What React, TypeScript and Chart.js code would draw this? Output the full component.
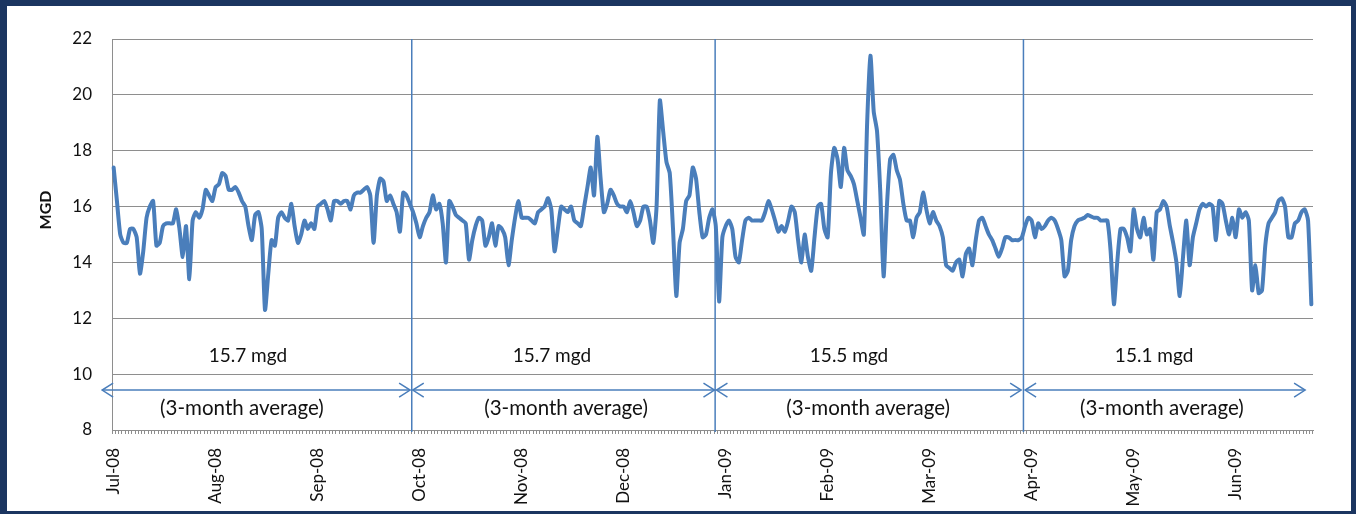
import React, { useEffect, useRef } from 'react';
import { Chart, registerables } from 'chart.js';

Chart.register(...registerables);

// Month tick labels (one label every 31 daily categories)
const monthLabels = [
  'Jul-08', 'Aug-08', 'Sep-08', 'Oct-08', 'Nov-08', 'Dec-08',
  'Jan-09', 'Feb-09', 'Mar-09', 'Apr-09', 'May-09', 'Jun-09',
];
const labelEvery = 31;

// Daily flow, MGD (Jul-08 .. Jun-09)
const dailyMgd = [
  17.4, 16.2, 15.0, 14.7, 14.7, 15.2, 15.2, 14.9, 13.6, 14.4,
  15.6, 16.0, 16.2, 14.6, 14.7, 15.3, 15.4, 15.4, 15.4, 15.9,
  15.2, 14.2, 15.3, 13.4, 15.5, 15.8, 15.6, 15.9, 16.6, 16.4,
  16.2, 16.7, 16.8, 17.2, 17.1, 16.6, 16.6, 16.7, 16.5, 16.2,
  16.0, 15.3, 14.8, 15.7, 15.8, 15.2, 12.3, 13.6, 14.8, 14.6,
  15.6, 15.8, 15.6, 15.5, 16.1, 15.3, 14.7, 15.0, 15.5, 15.2,
  15.4, 15.2, 16.0, 16.1, 16.2, 15.9, 15.5, 16.2, 16.2, 16.1,
  16.2, 16.2, 15.9, 16.4, 16.5, 16.5, 16.6, 16.7, 16.4, 14.7,
  16.4, 17.0, 16.9, 16.2, 16.4, 16.1, 15.8, 15.1, 16.5, 16.4,
  16.1, 15.8, 15.4, 14.9, 15.3, 15.6, 15.8, 16.4, 15.9, 16.1,
  15.4, 14.0, 16.2, 16.0, 15.7, 15.6, 15.5, 15.4, 14.1, 14.8,
  15.3, 15.6, 15.5, 14.6, 14.9, 15.4, 14.6, 15.3, 15.2, 14.9,
  13.9, 14.8, 15.6, 16.2, 15.6, 15.6, 15.6, 15.5, 15.4, 15.8,
  15.9, 16.0, 16.3, 15.9, 14.4, 15.2, 16.0, 15.9, 15.8, 16.0,
  15.5, 15.4, 15.3, 16.0, 16.7, 17.4, 16.4, 18.5, 17.0, 15.8,
  16.1, 16.6, 16.4, 16.1, 16.0, 16.0, 15.8, 16.2, 15.8, 15.3,
  15.5, 16.0, 16.0, 15.5, 14.7, 16.0, 19.8, 18.7, 17.6, 17.2,
  15.2, 12.8, 14.7, 15.2, 16.2, 16.4, 17.4, 17.0, 15.8, 14.9,
  15.0, 15.6, 15.9, 15.3, 12.6, 14.9, 15.3, 15.5, 15.2, 14.2,
  14.0, 14.8, 15.5, 15.6, 15.5, 15.5, 15.5, 15.5, 15.8, 16.2,
  15.9, 15.5, 15.1, 15.3, 15.1, 15.5, 16.0, 15.8, 14.8, 14.0,
  15.0, 14.2, 13.7, 14.9, 16.0, 16.1, 15.2, 14.9, 17.2, 18.1,
  17.7, 16.7, 18.1, 17.3, 17.1, 16.8, 16.2, 15.6, 15.0, 19.0,
  21.4, 19.4, 18.7, 16.5, 13.5, 16.0, 17.7, 17.85, 17.3, 16.95,
  16.1, 15.5, 15.5, 14.9, 15.6, 15.8, 16.5, 15.9, 15.4, 15.8,
  15.5, 15.3, 14.9, 13.9, 13.8, 13.7, 14.0, 14.1, 13.5, 14.3,
  14.5, 13.9, 14.8, 15.5, 15.6, 15.3, 15.0, 14.8, 14.5, 14.2,
  14.5, 14.9, 14.9, 14.8, 14.8, 14.8, 14.9, 15.3, 15.6, 15.5,
  14.9, 15.4, 15.2, 15.3, 15.5, 15.6, 15.5, 15.2, 14.8, 13.5,
  13.7, 14.8, 15.3, 15.5, 15.55, 15.6, 15.7, 15.65, 15.6, 15.6,
  15.5, 15.5, 15.5, 14.4, 12.5, 14.0, 15.2, 15.2, 14.9, 14.4,
  15.9, 15.2, 14.9, 15.6, 15.0, 15.2, 14.1, 15.8, 15.9, 16.2,
  16.0, 15.3, 14.7, 14.0, 12.8, 14.2, 15.5, 13.9, 14.9, 15.4,
  15.9, 16.1, 16.0, 16.1, 16.0, 14.8, 16.2, 16.1, 15.5, 15.0,
  15.6, 14.9, 15.9, 15.6, 15.8, 15.5, 13.0, 13.9, 12.9, 13.0,
  14.6, 15.4, 15.6, 15.8, 16.2, 16.3, 16.0, 14.9, 14.9, 15.4,
  15.5, 15.8, 15.9, 15.5, 12.5,
];

const yMin = 8;
const yMax = 22;
const yStep = 2;

// Quarter dividers (category index positions)
const quarterDividers = [90.6, 182.8, 276.5];
// Averaging arrows: [start, end] in category index space
const quarterSpans = [
  [-3.5, 90.1],
  [90.9, 182.6],
  [183.2, 275.8],
  [277.0, 362.1],
];
const quarterAverages = ['15.7 mgd', '15.7 mgd', '15.5 mgd', '15.1 mgd'];
const averageLabelX = [40.8, 133.2, 223.5, 316.2];
const averageNote = '(3-month average)';
const noteLabelX = [39.0, 137.5, 229.3, 318.6];
const averageLabelY = 10.65;
const arrowY = 9.43;
const noteLabelY = 8.79;

const categories = dailyMgd.map((_, i) =>
  i % labelEvery === 0 ? monthLabels[i / labelEvery] ?? '' : ''
);

const BLUE = '#4a7ebb';
const GRID = '#8e8e8e';
const FONT = 'Lato, "Open Sans", sans-serif';

const annotationPlugin = {
  id: 'quarterAnnotations',
  afterDatasetsDraw(chart: any) {
    const { ctx, chartArea, scales } = chart;
    const x = scales.x;
    const y = scales.y;
    ctx.save();

    // vertical dividers
    ctx.strokeStyle = BLUE;
    ctx.lineWidth = 1.5;
    quarterDividers.forEach((d) => {
      const px = x.getPixelForValue(d);
      ctx.beginPath();
      ctx.moveTo(px, chartArea.top);
      ctx.lineTo(px, chartArea.bottom + 2);
      ctx.stroke();
    });

    // double arrows
    const ay = y.getPixelForValue(arrowY);
    ctx.strokeStyle = BLUE;
    ctx.lineWidth = 1.5;
    quarterSpans.forEach(([a, b]) => {
      const x1 = x.getPixelForValue(a);
      const x2 = x.getPixelForValue(b);
      ctx.beginPath();
      ctx.moveTo(x1, ay);
      ctx.lineTo(x2, ay);
      ctx.stroke();
      ctx.beginPath();
      ctx.moveTo(x1 + 11, ay - 7);
      ctx.lineTo(x1, ay);
      ctx.lineTo(x1 + 11, ay + 7);
      ctx.moveTo(x2 - 11, ay - 7);
      ctx.lineTo(x2, ay);
      ctx.lineTo(x2 - 11, ay + 7);
      ctx.stroke();
    });

    // labels
    ctx.fillStyle = '#111';
    ctx.textAlign = 'center';
    ctx.textBaseline = 'middle';
    ctx.font = `19px ${FONT}`;
    quarterAverages.forEach((t, i) => {
      ctx.fillText(t, x.getPixelForValue(averageLabelX[i]), y.getPixelForValue(averageLabelY));
    });
    ctx.font = `20.5px ${FONT}`;
    noteLabelX.forEach((nx) => {
      ctx.fillText(averageNote, x.getPixelForValue(nx), y.getPixelForValue(noteLabelY));
    });

    // y-axis title
    ctx.save();
    ctx.translate(46, 210);
    ctx.rotate(-Math.PI / 2);
    ctx.font = `bold 16px ${FONT}`;
    ctx.fillText('MGD', 0, 0);
    ctx.restore();

    ctx.restore();
  },
};

export default function App() {
  const canvasRef = useRef<HTMLCanvasElement | null>(null);

  useEffect(() => {
    if (!canvasRef.current) return;
    const chart = new Chart(canvasRef.current, {
      type: 'line',
      data: {
        labels: categories,
        datasets: [
          {
            data: dailyMgd,
            borderColor: BLUE,
            borderWidth: 4,
            borderJoinStyle: 'round',
            borderCapStyle: 'round',
            pointRadius: 0,
            tension: 0.2,
            fill: false,
          },
        ],
      },
      options: {
        responsive: false,
        animation: false,
        devicePixelRatio: 1,
        layout: { padding: { left: 0, top: 39, right: 43, bottom: 0 } },
        plugins: { legend: { display: false }, tooltip: { enabled: false } },
        scales: {
          x: {
            type: 'category',
            offset: true,
            border: { display: true, color: GRID, width: 1 },
            grid: {
              display: true,
              offset: true,
              drawOnChartArea: false,
              drawTicks: true,
              tickLength: 4,
              color: GRID,
            },
            ticks: {
              autoSkip: false,
              minRotation: 90,
              maxRotation: 90,
              padding: 14,
              color: '#111',
              font: { family: FONT, size: 17 },
              callback: (_v: any, i: number) => categories[i],
            },
            afterFit: (scale: any) => {
              scale.height = 84;
            },
          },
          y: {
            min: yMin,
            max: yMax,
            border: { display: true, color: GRID, width: 1 },
            grid: { color: GRID, drawTicks: false, lineWidth: 1 },
            ticks: {
              stepSize: yStep,
              padding: 20,
              color: '#111',
              font: { family: FONT, size: 17 },
            },
            afterFit: (scale: any) => {
              scale.width = 112;
            },
          },
        },
      },
      plugins: [annotationPlugin],
    });
    return () => chart.destroy();
  }, []);

  return (
    <div
      style={{
        position: 'fixed',
        left: 0,
        top: 0,
        width: 1356,
        height: 514,
        background: '#1b3560',
      }}
    >
      <div
        style={{
          position: 'absolute',
          left: 7,
          top: 6,
          right: 5,
          bottom: 3,
          background: '#ffffff',
        }}
      />
      <canvas
        ref={canvasRef}
        width={1356}
        height={514}
        style={{ position: 'absolute', left: 0, top: 0 }}
      />
    </div>
  );
}
